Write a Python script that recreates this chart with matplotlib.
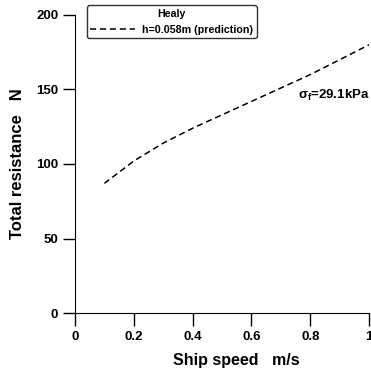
import matplotlib
matplotlib.use('Agg')
import matplotlib.pyplot as plt

plt.rcParams['font.family'] = ['Liberation Sans', 'DejaVu Sans']
plt.rcParams['font.weight'] = 'bold'
plt.rcParams['mathtext.fontset'] = 'custom'
plt.rcParams['mathtext.rm'] = 'Liberation Sans:bold'
plt.rcParams['mathtext.it'] = 'Liberation Sans'
plt.rcParams['mathtext.bf'] = 'Liberation Sans:bold'

speed = [0.1, 0.2, 0.3, 0.4, 0.5, 0.6, 0.7, 0.8, 0.9, 1.0]
resistance = [87, 102, 114, 124, 133, 142, 151, 160, 170, 180]

fig = plt.figure(figsize=(3.71, 3.74), dpi=100)
ax = fig.add_axes([0.202, 0.163, 0.793, 0.797])

ax.plot(speed, resistance, 'k--', lw=1.1, dashes=(4, 2.5), label='h=0.058m (prediction)')

ax.set_xlim(0, 1)
ax.set_ylim(0, 200)
ax.set_xticks([0, 0.2, 0.4, 0.6, 0.8, 1])
ax.set_xticklabels(['0', '0.2', '0.4', '0.6', '0.8', '1'])
ax.set_yticks([0, 50, 100, 150, 200])

ax.spines['top'].set_visible(False)
ax.spines['right'].set_visible(False)
ax.tick_params(direction='out', length=9, width=1, labelsize=9.5)
ax.tick_params(axis='x', pad=4)
ax.tick_params(axis='y', pad=3)

ax.set_xlabel('Ship speed   m/s', fontsize=11.5, fontweight='bold')
ax.set_ylabel('Total resistance   N', fontsize=12, fontweight='bold')
ax.xaxis.set_label_coords(0.548, -0.135)
ax.yaxis.set_label_coords(-0.17, 0.5)

leg = ax.legend(title='Healy', loc='upper left', bbox_to_anchor=(0.04, 1.032),
                borderaxespad=0, fontsize=7.7, title_fontsize=7.7, frameon=True,
                fancybox=True, edgecolor='black', handlelength=4.2, borderpad=0.35,
                handletextpad=0.6)
leg.get_title().set_fontweight('bold')
leg.get_frame().set_linewidth(1)

ax.text(0.757, 146, r'$\sigma_\mathrm{f}$=29.1kPa', fontsize=9.5, fontweight='bold', va='center')

plt.savefig('out.png', dpi=100)
